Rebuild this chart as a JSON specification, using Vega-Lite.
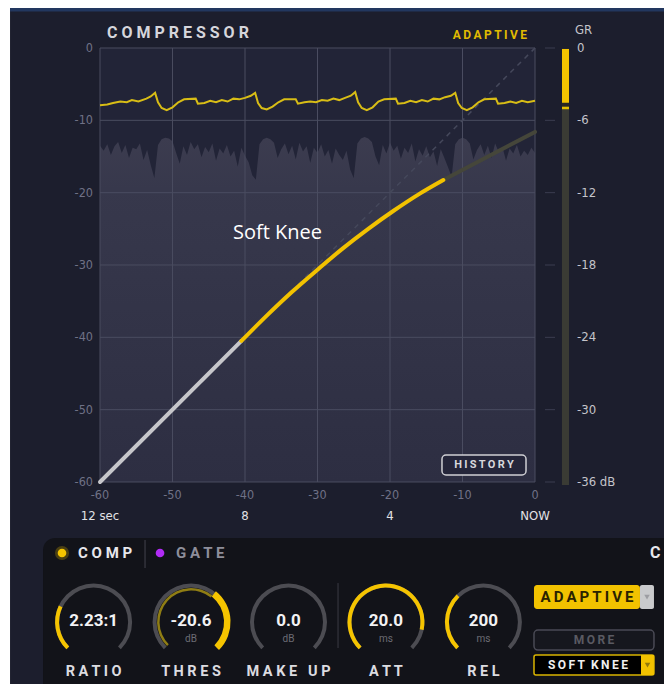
{
"$schema": "https://vega.github.io/schema/vega-lite/v6.json",
"width": 664, "height": 684, "autosize": {"type": "none"}, "padding": 0,
"background": "#ffffff",
"config": {"view": {"stroke": null}, "text": {"font": "Roboto"}},
"data": {"values": [{"k": 1}]},
"datasets": {
"grid": [{"v": -60}, {"v": -50}, {"v": -40}, {"v": -30}, {"v": -20}, {"v": -10}, {"v": 0}],
"wave": [
{"t":-60,"db":-13.5},{"t":-59.5,"db":-14.2},{"t":-59,"db":-13.3},{"t":-58.5,"db":-14.8},{"t":-58,"db":-13.6},{"t":-57.5,"db":-13.0},{"t":-57,"db":-14.5},{"t":-56.5,"db":-13.4},{"t":-56,"db":-15.2},{"t":-55.5,"db":-13.8},{"t":-55,"db":-14.0},{"t":-54.5,"db":-13.2},{"t":-54,"db":-15.5},{"t":-53.5,"db":-14.1},{"t":-53,"db":-16.2},{"t":-52.5,"db":-18.0},{"t":-52,"db":-13.4},{"t":-51.5,"db":-12.6},{"t":-51,"db":-12.4},{"t":-50.5,"db":-12.5},{"t":-50,"db":-12.9},{"t":-49.5,"db":-14.5},{"t":-49,"db":-16.0},{"t":-48.5,"db":-13.6},{"t":-48,"db":-14.8},{"t":-47.5,"db":-13.0},{"t":-47,"db":-14.0},{"t":-46.5,"db":-13.3},{"t":-46,"db":-15.1},{"t":-45.5,"db":-13.7},{"t":-45,"db":-14.4},{"t":-44.5,"db":-13.2},{"t":-44,"db":-15.6},{"t":-43.5,"db":-13.9},{"t":-43,"db":-14.6},{"t":-42.5,"db":-13.4},{"t":-42,"db":-15.0},{"t":-41.5,"db":-14.2},{"t":-41,"db":-16.4},{"t":-40.5,"db":-13.8},{"t":-40,"db":-14.9},{"t":-39.5,"db":-15.8},{"t":-39,"db":-17.6},{"t":-38.5,"db":-18.2},{"t":-38,"db":-13.3},{"t":-37.5,"db":-12.6},{"t":-37,"db":-12.4},{"t":-36.5,"db":-12.6},{"t":-36,"db":-13.1},{"t":-35.5,"db":-15.2},{"t":-35,"db":-14.0},{"t":-34.5,"db":-13.2},{"t":-34,"db":-14.7},{"t":-33.5,"db":-13.5},{"t":-33,"db":-15.4},{"t":-32.5,"db":-13.1},{"t":-32,"db":-14.3},{"t":-31.5,"db":-13.6},{"t":-31,"db":-15.9},{"t":-30.5,"db":-13.8},{"t":-30,"db":-14.5},{"t":-29.5,"db":-13.3},{"t":-29,"db":-15.0},{"t":-28.5,"db":-14.1},{"t":-28,"db":-16.0},{"t":-27.5,"db":-13.9},{"t":-27,"db":-14.8},{"t":-26.5,"db":-15.5},{"t":-26,"db":-14.2},{"t":-25.5,"db":-16.8},{"t":-25,"db":-18.0},{"t":-24.5,"db":-13.2},{"t":-24,"db":-12.5},{"t":-23.5,"db":-12.3},{"t":-23,"db":-12.5},{"t":-22.5,"db":-13.0},{"t":-22,"db":-15.0},{"t":-21.5,"db":-16.2},{"t":-21,"db":-13.4},{"t":-20.5,"db":-14.6},{"t":-20,"db":-13.1},{"t":-19.5,"db":-14.2},{"t":-19,"db":-13.5},{"t":-18.5,"db":-15.3},{"t":-18,"db":-13.8},{"t":-17.5,"db":-14.5},{"t":-17,"db":-13.2},{"t":-16.5,"db":-15.7},{"t":-16,"db":-14.0},{"t":-15.5,"db":-14.9},{"t":-15,"db":-13.6},{"t":-14.5,"db":-15.1},{"t":-14,"db":-14.3},{"t":-13.5,"db":-16.3},{"t":-13,"db":-14.0},{"t":-12.5,"db":-15.2},{"t":-12,"db":-16.5},{"t":-11.5,"db":-17.8},{"t":-11,"db":-13.3},{"t":-10.5,"db":-12.6},{"t":-10,"db":-12.4},{"t":-9.5,"db":-12.6},{"t":-9,"db":-13.2},{"t":-8.5,"db":-15.4},{"t":-8,"db":-14.1},{"t":-7.5,"db":-13.3},{"t":-7,"db":-14.8},{"t":-6.5,"db":-13.5},{"t":-6,"db":-15.2},{"t":-5.5,"db":-13.2},{"t":-5,"db":-14.4},{"t":-4.5,"db":-13.7},{"t":-4,"db":-15.6},{"t":-3.5,"db":-13.9},{"t":-3,"db":-14.6},{"t":-2.5,"db":-13.4},{"t":-2,"db":-15.0},{"t":-1.5,"db":-14.2},{"t":-1,"db":-14.8},{"t":-0.5,"db":-13.8},{"t":0,"db":-14.5}],
"grline": [
{"t":-60,"g":-7.9},{"t":-59,"g":-7.8},{"t":-58.2,"g":-7.6},{"t":-57.2,"g":-7.4},{"t":-56.3,"g":-7.5},{"t":-55.6,"g":-7.2},{"t":-54.7,"g":-7.4},{"t":-53.6,"g":-7.0},{"t":-53.0,"g":-6.7},{"t":-52.4,"g":-6.2},
{"t":-52.0,"g":-7.5},{"t":-51.5,"g":-8.3},{"t":-50.8,"g":-8.6},{"t":-50.0,"g":-8.2},{"t":-49.2,"g":-7.5},{"t":-48.4,"g":-7.1},{"t":-46.8,"g":-7.0},{"t":-46.5,"g":-7.7},{"t":-45.6,"g":-7.6},{"t":-44.8,"g":-7.3},{"t":-44.0,"g":-7.5},{"t":-43.2,"g":-7.2},{"t":-42.4,"g":-7.4},{"t":-41.6,"g":-7.0},{"t":-40.8,"g":-7.1},{"t":-40.0,"g":-6.9},{"t":-39.2,"g":-6.6},{"t":-38.6,"g":-6.2},
{"t":-38.2,"g":-7.6},{"t":-37.7,"g":-8.3},{"t":-37.0,"g":-8.5},{"t":-36.2,"g":-8.1},{"t":-35.4,"g":-7.5},{"t":-34.6,"g":-7.1},{"t":-33.0,"g":-7.1},{"t":-32.7,"g":-7.7},{"t":-31.8,"g":-7.5},{"t":-31.0,"g":-7.4},{"t":-30.2,"g":-7.5},{"t":-29.4,"g":-7.2},{"t":-28.6,"g":-7.3},{"t":-27.8,"g":-7.0},{"t":-27.0,"g":-7.2},{"t":-26.2,"g":-6.9},{"t":-25.4,"g":-6.6},{"t":-24.8,"g":-6.1},
{"t":-24.4,"g":-7.5},{"t":-23.9,"g":-8.3},{"t":-23.2,"g":-8.6},{"t":-22.4,"g":-8.2},{"t":-21.6,"g":-7.4},{"t":-20.8,"g":-7.1},{"t":-19.2,"g":-7.0},{"t":-18.9,"g":-7.7},{"t":-18.0,"g":-7.6},{"t":-17.2,"g":-7.3},{"t":-16.4,"g":-7.5},{"t":-15.6,"g":-7.2},{"t":-14.8,"g":-7.4},{"t":-14.0,"g":-7.0},{"t":-13.2,"g":-7.1},{"t":-12.4,"g":-6.8},{"t":-11.6,"g":-6.6},{"t":-11.0,"g":-6.2},
{"t":-10.6,"g":-7.6},{"t":-10.1,"g":-8.3},{"t":-9.4,"g":-8.6},{"t":-8.6,"g":-8.2},{"t":-7.8,"g":-7.5},{"t":-7.0,"g":-7.1},{"t":-5.4,"g":-7.0},{"t":-5.1,"g":-7.7},{"t":-4.2,"g":-7.6},{"t":-3.4,"g":-7.4},{"t":-2.6,"g":-7.6},{"t":-1.8,"g":-7.3},{"t":-1.0,"g":-7.5},{"t":0,"g":-7.3}],
"linear": [{"i": -60, "o": -60}, {"i": -40.5, "o": -40.5}],
"knee": [{"i": -40.5, "o": -40.5}, {"i": -37, "o": -37.0}, {"i": -33.5, "o": -33.7}, {"i": -30, "o": -30.65}, {"i": -26.5, "o": -27.7}, {"i": -23, "o": -25.0}, {"i": -19.5, "o": -22.5}, {"i": -16, "o": -20.2}, {"i": -12.65, "o": -18.25}],
"above": [{"i": -12.65, "o": -18.25}, {"i": 0, "o": -11.6}],
"unity": [{"i": -40.5, "o": -40.5}, {"i": 0, "o": 0}],
"timeLabels": [{"t": -60, "lab": "12 sec"}, {"t": -40, "lab": "8"}, {"t": -20, "lab": "4"}, {"t": 0, "lab": "NOW"}],
"grTicks": [{"g": 0, "lab": "0"}, {"g": -6, "lab": "-6"}, {"g": -12, "lab": "-12"}, {"g": -18, "lab": "-18"}, {"g": -24, "lab": "-24"}, {"g": -30, "lab": "-30"}, {"g": -36, "lab": "-36 dB"}],
"knobs": [{"knob": "RATIO", "val": "2.23:1", "unit": "", "lab": "R A T I O"}, {"knob": "THRES", "val": "-20.6", "unit": "dB", "lab": "T H R E S"}, {"knob": "MAKE UP", "val": "0.0", "unit": "dB", "lab": "M A K E\u00a0\u00a0\u00a0U P"}, {"knob": "ATT", "val": "20.0", "unit": "ms", "lab": "A T T"}, {"knob": "REL", "val": "200", "unit": "ms", "lab": "R E L"}],
"tracks": [{"knob": "RATIO", "a0": -2.356, "a1": 2.356}, {"knob": "THRES", "a0": -2.356, "a1": 2.356}, {"knob": "MAKE UP", "a0": -2.356, "a1": 2.356}, {"knob": "ATT", "a0": -2.356, "a1": 2.356}, {"knob": "REL", "a0": -2.356, "a1": 2.356}],
"fills": [{"knob": "RATIO", "a0": -2.356, "a1": -1.13}, {"knob": "ATT", "a0": -2.356, "a1": 1.78}, {"knob": "REL", "a0": -2.356, "a1": -0.77}],
"thresOuter": [{"knob": "THRES", "a0": 0.68, "a1": 2.356}],
"thresInner": [{"knob": "THRES", "a0": -2.356, "a1": 0.68}]
},
"layer": [
{"layer": [
 {"mark": {"type": "rect", "color": "#1c1e2d"}, "encoding": {"x": {"datum": -72.41, "type": "quantitative", "scale": {"domain": [-73.7931, 17.7931], "nice": false, "zero": false}, "axis": null}, "x2": {"datum": 20}, "y": {"datum": 5.53, "type": "quantitative", "scale": {"domain": [-87.9263, 6.6359], "nice": false, "zero": false}, "axis": null}, "y2": {"datum": -95}}},
 {"mark": {"type": "rect", "color": "#22375f"}, "encoding": {"x": {"datum": -72.41, "type": "quantitative", "axis": null}, "x2": {"datum": 20}, "y": {"datum": 5.53, "type": "quantitative", "axis": null}, "y2": {"datum": 5.05}}},
 {"mark": {"type": "rect", "color": "#222437"}, "encoding": {"x": {"datum": -60, "type": "quantitative", "axis": null}, "x2": {"datum": 0}, "y": {"datum": 0, "type": "quantitative", "axis": null}, "y2": {"datum": -60}}},
 {"data": {"name": "wave"}, "mark": {"type": "area", "interpolate": "linear", "color": {"gradient": "linear", "x1": 0, "y1": 0, "x2": 0, "y2": 1, "stops": [{"offset": 0, "color": "#3c3c4f"}, {"offset": 0.15, "color": "#37384c"}, {"offset": 1, "color": "#2d2e42"}]}}, "encoding": {"x": {"field": "t", "type": "quantitative", "axis": null}, "y": {"field": "db", "type": "quantitative", "axis": null}, "y2": {"datum": -60}}},
 {"data": {"name": "grid"}, "mark": {"type": "rule", "color": "#4a4c60", "strokeWidth": 1}, "encoding": {"x": {"field": "v", "type": "quantitative", "axis": null}, "y": {"datum": 0, "type": "quantitative", "axis": null}, "y2": {"datum": -60}}},
 {"data": {"name": "grid"}, "mark": {"type": "rule", "color": "#4a4c60", "strokeWidth": 1}, "encoding": {"y": {"field": "v", "type": "quantitative", "axis": null}, "x": {"datum": -60, "type": "quantitative", "axis": null}, "x2": {"datum": 0}}},
 {"data": {"name": "grid"}, "mark": {"type": "text", "align": "right", "baseline": "middle", "dx": -7, "fontSize": 12.5, "color": "#6f7186", "font": "Liberation Sans Narrow, DejaVu Sans Condensed, Roboto"}, "encoding": {"text": {"field": "v", "type": "nominal"}, "y": {"field": "v", "type": "quantitative", "axis": null}, "x": {"datum": -60, "type": "quantitative", "axis": null}}},
 {"data": {"name": "grid"}, "mark": {"type": "text", "align": "center", "baseline": "middle", "fontSize": 12.5, "color": "#6f7186", "font": "Liberation Sans Narrow, DejaVu Sans Condensed, Roboto"}, "encoding": {"text": {"field": "v", "type": "nominal"}, "x": {"field": "v", "type": "quantitative", "axis": null}, "y": {"datum": -61.8, "type": "quantitative", "axis": null}}},
 {"data": {"name": "unity"}, "mark": {"type": "line", "color": "#45485b", "strokeWidth": 1.5, "strokeDash": [5, 5]}, "encoding": {"x": {"field": "i", "type": "quantitative", "axis": null}, "y": {"field": "o", "type": "quantitative", "axis": null}}},
 {"data": {"name": "grline"}, "mark": {"type": "line", "color": "#d8bd16", "strokeWidth": 2}, "encoding": {"x": {"field": "t", "type": "quantitative", "axis": null}, "y": {"field": "g", "type": "quantitative", "axis": null}}},
 {"data": {"name": "linear"}, "mark": {"type": "line", "color": "#c6c6ca", "strokeWidth": 4, "strokeCap": "round"}, "encoding": {"x": {"field": "i", "type": "quantitative", "axis": null}, "y": {"field": "o", "type": "quantitative", "axis": null}}},
 {"data": {"name": "above"}, "mark": {"type": "line", "color": "#45463a", "strokeWidth": 4, "strokeCap": "round"}, "encoding": {"x": {"field": "i", "type": "quantitative", "axis": null}, "y": {"field": "o", "type": "quantitative", "axis": null}}},
 {"data": {"name": "knee"}, "mark": {"type": "line", "color": "#f2c200", "strokeWidth": 4, "strokeCap": "round", "interpolate": "monotone"}, "encoding": {"x": {"field": "i", "type": "quantitative", "axis": null}, "y": {"field": "o", "type": "quantitative", "axis": null}}},
 {"mark": {"type": "text", "align": "left", "baseline": "middle", "fontSize": 16, "fontWeight": "bold", "color": "#d6d6dc"}, "encoding": {"text": {"value": "C O M P R E S S O R"}, "x": {"datum": -59.03, "type": "quantitative", "axis": null}, "y": {"datum": 2.07, "type": "quantitative", "axis": null}}},
 {"mark": {"type": "text", "align": "right", "baseline": "middle", "fontSize": 12, "fontWeight": "bold", "color": "#e0bb00"}, "encoding": {"text": {"value": "A\u2009D\u2009A\u2009P\u2009T\u2009I\u2009V\u2009E"}, "x": {"datum": -1.1, "type": "quantitative", "axis": null}, "y": {"datum": 1.8, "type": "quantitative", "axis": null}}},
 {"data": {"name": "timeLabels"}, "mark": {"type": "text", "align": "center", "baseline": "middle", "fontSize": 13, "color": "#e2e2e6", "font": "Liberation Sans Narrow, DejaVu Sans Condensed, Roboto"}, "encoding": {"text": {"field": "lab"}, "x": {"field": "t", "type": "quantitative", "axis": null}, "y": {"datum": -64.7, "type": "quantitative", "axis": null}}},
 {"mark": {"type": "text", "align": "left", "baseline": "middle", "fontSize": 20, "color": "#ffffff", "font": "Open Sans"}, "encoding": {"text": {"value": "Soft Knee"}, "x": {"datum": -41.66, "type": "quantitative", "axis": null}, "y": {"datum": -25.58, "type": "quantitative", "axis": null}}},
 {"mark": {"type": "rect", "color": "#25263a", "stroke": "#cfcfd4", "strokeWidth": 1.5, "cornerRadius": 4}, "encoding": {"x": {"datum": -12.83, "type": "quantitative", "axis": null}, "x2": {"datum": -1.24}, "y": {"datum": -56.27, "type": "quantitative", "axis": null}, "y2": {"datum": -59.03}}},
 {"mark": {"type": "text", "align": "center", "baseline": "middle", "fontSize": 11, "fontWeight": "bold", "color": "#d8d8dc"}, "encoding": {"text": {"value": "H\u2009I\u2009S\u2009T\u2009O\u2009R\u2009Y"}, "x": {"datum": -7.03, "type": "quantitative", "axis": null}, "y": {"datum": -57.65, "type": "quantitative", "axis": null}}},
 {"mark": {"type": "rect", "color": "#121319", "cornerRadius": 12}, "encoding": {"x": {"datum": -67.86, "type": "quantitative", "axis": null}, "x2": {"datum": 22}, "y": {"datum": -67.74, "type": "quantitative", "axis": null}, "y2": {"datum": -95}}},
 {"mark": {"type": "point", "filled": true, "size": 200, "color": "#f2c200", "opacity": 0.25}, "encoding": {"x": {"datum": -65.24, "type": "quantitative", "axis": null}, "y": {"datum": -69.82, "type": "quantitative", "axis": null}}},
 {"mark": {"type": "point", "filled": true, "size": 75, "color": "#f5c400", "opacity": 1}, "encoding": {"x": {"datum": -65.24, "type": "quantitative", "axis": null}, "y": {"datum": -69.82, "type": "quantitative", "axis": null}}},
 {"mark": {"type": "point", "filled": true, "size": 75, "color": "#b12cf5", "opacity": 1}, "encoding": {"x": {"datum": -51.72, "type": "quantitative", "axis": null}, "y": {"datum": -69.82, "type": "quantitative", "axis": null}}},
 {"mark": {"type": "text", "align": "left", "baseline": "middle", "fontSize": 15, "fontWeight": "bold", "color": "#e8e8ec"}, "encoding": {"text": {"value": "C O M P"}, "x": {"datum": -63.03, "type": "quantitative", "axis": null}, "y": {"datum": -69.82, "type": "quantitative", "axis": null}}},
 {"mark": {"type": "text", "align": "left", "baseline": "middle", "fontSize": 15, "fontWeight": "bold", "color": "#8e8e9a"}, "encoding": {"text": {"value": "G A T E"}, "x": {"datum": -49.52, "type": "quantitative", "axis": null}, "y": {"datum": -69.82, "type": "quantitative", "axis": null}}},
 {"mark": {"type": "text", "align": "left", "baseline": "middle", "fontSize": 16, "fontWeight": "bold", "color": "#e8e8ec"}, "encoding": {"text": {"value": "C"}, "x": {"datum": 15.86, "type": "quantitative", "axis": null}, "y": {"datum": -69.82, "type": "quantitative", "axis": null}}},
 {"mark": {"type": "rule", "color": "#44444e", "strokeWidth": 1}, "encoding": {"x": {"datum": -53.79, "type": "quantitative", "axis": null}, "y": {"datum": -68.02, "type": "quantitative", "axis": null}, "y2": {"datum": -71.89}}},
 {"mark": {"type": "rule", "color": "#3a3a44", "strokeWidth": 1}, "encoding": {"x": {"datum": -27.17, "type": "quantitative", "axis": null}, "y": {"datum": -73.97, "type": "quantitative", "axis": null}, "y2": {"datum": -82.95}}},
 {"mark": {"type": "rect", "color": "#f2c200", "cornerRadius": 3}, "encoding": {"x": {"datum": -0.14, "type": "quantitative", "axis": null}, "x2": {"datum": 14.48}, "y": {"datum": -74.24, "type": "quantitative", "axis": null}, "y2": {"datum": -77.56}}},
 {"mark": {"type": "rect", "color": "#c9cacc", "cornerRadius": 2}, "encoding": {"x": {"datum": 14.48, "type": "quantitative", "axis": null}, "x2": {"datum": 16.41}, "y": {"datum": -74.24, "type": "quantitative", "axis": null}, "y2": {"datum": -77.56}}},
 {"mark": {"type": "point", "shape": "triangle-down", "filled": true, "size": 30, "color": "#8a8a90"}, "encoding": {"x": {"datum": 15.45, "type": "quantitative", "axis": null}, "y": {"datum": -75.9, "type": "quantitative", "axis": null}}},
 {"mark": {"type": "text", "align": "center", "baseline": "middle", "fontSize": 15, "fontWeight": "bold", "color": "#2a2200"}, "encoding": {"text": {"value": "A\u2009D\u2009A\u2009P\u2009T\u2009I\u2009V\u2009E"}, "x": {"datum": 7.17, "type": "quantitative", "axis": null}, "y": {"datum": -75.9, "type": "quantitative", "axis": null}}},
 {"mark": {"type": "rect", "color": "#16171e", "stroke": "#4a4a55", "strokeWidth": 1.5, "cornerRadius": 4}, "encoding": {"x": {"datum": -0.14, "type": "quantitative", "axis": null}, "x2": {"datum": 16.41}, "y": {"datum": -80.46, "type": "quantitative", "axis": null}, "y2": {"datum": -83.23}}},
 {"mark": {"type": "text", "align": "center", "baseline": "middle", "fontSize": 12, "fontWeight": "bold", "color": "#5a5a62"}, "encoding": {"text": {"value": "M\u2009O\u2009R\u2009E"}, "x": {"datum": 8.14, "type": "quantitative", "axis": null}, "y": {"datum": -81.84, "type": "quantitative", "axis": null}}},
 {"mark": {"type": "rect", "color": "#000000", "stroke": "#d9b400", "strokeWidth": 1.5, "cornerRadius": 2}, "encoding": {"x": {"datum": -0.14, "type": "quantitative", "axis": null}, "x2": {"datum": 16.41}, "y": {"datum": -83.92, "type": "quantitative", "axis": null}, "y2": {"datum": -86.68}}},
 {"mark": {"type": "rect", "color": "#f2c200"}, "encoding": {"x": {"datum": 14.62, "type": "quantitative", "axis": null}, "x2": {"datum": 16.41}, "y": {"datum": -83.92, "type": "quantitative", "axis": null}, "y2": {"datum": -86.68}}},
 {"mark": {"type": "point", "shape": "triangle-down", "filled": true, "size": 30, "color": "#6a5a10"}, "encoding": {"x": {"datum": 15.52, "type": "quantitative", "axis": null}, "y": {"datum": -85.3, "type": "quantitative", "axis": null}}},
 {"mark": {"type": "text", "align": "center", "baseline": "middle", "fontSize": 12, "fontWeight": "bold", "color": "#f0f0f0"}, "encoding": {"text": {"value": "S\u2009O\u2009F\u2009T\u00a0\u00a0K\u2009N\u2009E\u2009E"}, "x": {"datum": 7.31, "type": "quantitative", "axis": null}, "y": {"datum": -85.3, "type": "quantitative", "axis": null}}}
]},
{"layer": [
 {"mark": {"type": "rect", "color": "#3a3b34"}, "encoding": {"x": {"datum": 3.72, "type": "quantitative", "scale": {"domain": [-73.7931, 17.7931], "nice": false, "zero": false}, "axis": null}, "x2": {"datum": 4.69}, "y": {"datum": -0.08, "type": "quantitative", "scale": {"domain": [-52.7557, 3.9816], "nice": false, "zero": false}, "axis": null}, "y2": {"datum": -36.25}}},
 {"mark": {"type": "rect", "color": "#2a2722"}, "encoding": {"x": {"datum": 3.72, "type": "quantitative", "axis": null}, "x2": {"datum": 4.69}, "y": {"datum": -4.54, "type": "quantitative", "axis": null}, "y2": {"datum": -4.87}}},
 {"mark": {"type": "rect", "color": "#f5c400"}, "encoding": {"x": {"datum": 3.72, "type": "quantitative", "axis": null}, "x2": {"datum": 4.69}, "y": {"datum": -0.08, "type": "quantitative", "axis": null}, "y2": {"datum": -4.54}}},
 {"mark": {"type": "rect", "color": "#e6c000"}, "encoding": {"x": {"datum": 3.72, "type": "quantitative", "axis": null}, "x2": {"datum": 4.69}, "y": {"datum": -4.87, "type": "quantitative", "axis": null}, "y2": {"datum": -5.08}}},
 {"data": {"name": "grTicks"}, "mark": {"type": "rule", "color": "#3b3d50", "strokeWidth": 1}, "encoding": {"y": {"field": "g", "type": "quantitative", "axis": null}, "x": {"datum": 1.38, "type": "quantitative", "axis": null}, "x2": {"datum": 2.76}}},
 {"data": {"name": "grTicks"}, "mark": {"type": "text", "align": "left", "baseline": "middle", "dx": 2, "fontSize": 13, "color": "#c4c4ca", "font": "Liberation Sans Narrow, DejaVu Sans Condensed, Roboto"}, "encoding": {"text": {"field": "lab"}, "y": {"field": "g", "type": "quantitative", "axis": null}, "x": {"datum": 5.52, "type": "quantitative", "axis": null}}},
 {"mark": {"type": "text", "align": "left", "baseline": "middle", "fontSize": 13, "color": "#c4c4ca", "font": "Liberation Sans Narrow, DejaVu Sans Condensed, Roboto"}, "encoding": {"text": {"value": "GR"}, "x": {"datum": 5.52, "type": "quantitative", "axis": null}, "y": {"datum": 1.49, "type": "quantitative", "axis": null}}}
]},
{"layer": [
 {"data": {"name": "tracks"}, "mark": {"type": "arc", "radius": 38.5, "radius2": 34.5, "color": "#4c4c52"}, "encoding": {"x": {"field": "knob", "type": "nominal", "scale": {"type": "point", "domain": ["RATIO", "THRES", "MAKE UP", "ATT", "REL", "MODE"], "padding": 0.9069, "align": 0.5296}, "axis": null}, "y": {"datum": -79.36, "type": "quantitative", "scale": {"domain": [-87.9263, 6.6359], "nice": false, "zero": false}, "axis": null}, "theta": {"field": "a0", "type": "quantitative", "scale": null, "stack": null}, "theta2": {"field": "a1"}}},
 {"data": {"name": "thresInner"}, "mark": {"type": "arc", "radius": 34, "radius2": 31.5, "color": "#8f7d14"}, "encoding": {"x": {"field": "knob", "type": "nominal", "axis": null}, "y": {"datum": -79.36, "type": "quantitative", "axis": null}, "theta": {"field": "a0", "type": "quantitative", "scale": null, "stack": null}, "theta2": {"field": "a1"}}},
 {"data": {"name": "thresOuter"}, "mark": {"type": "arc", "radius": 39.5, "radius2": 33, "color": "#f5c400"}, "encoding": {"x": {"field": "knob", "type": "nominal", "axis": null}, "y": {"datum": -79.36, "type": "quantitative", "axis": null}, "theta": {"field": "a0", "type": "quantitative", "scale": null, "stack": null}, "theta2": {"field": "a1"}}},
 {"data": {"name": "fills"}, "mark": {"type": "arc", "radius": 38.5, "radius2": 34.5, "color": "#f5c400"}, "encoding": {"x": {"field": "knob", "type": "nominal", "axis": null}, "y": {"datum": -79.36, "type": "quantitative", "axis": null}, "theta": {"field": "a0", "type": "quantitative", "scale": null, "stack": null}, "theta2": {"field": "a1"}}},
 {"data": {"name": "knobs"}, "mark": {"type": "text", "align": "center", "baseline": "middle", "fontSize": 17, "fontWeight": "bold", "color": "#f2f2f4"}, "encoding": {"text": {"field": "val"}, "x": {"field": "knob", "type": "nominal", "axis": null}, "y": {"datum": -79.2, "type": "quantitative", "axis": null}}},
 {"data": {"name": "knobs"}, "mark": {"type": "text", "align": "center", "baseline": "middle", "fontSize": 10, "color": "#6c6c74"}, "encoding": {"text": {"field": "unit"}, "x": {"field": "knob", "type": "nominal", "axis": null}, "y": {"datum": -81.71, "type": "quantitative", "axis": null}}},
 {"data": {"name": "knobs"}, "mark": {"type": "text", "align": "center", "baseline": "middle", "fontSize": 14.5, "fontWeight": "bold", "color": "#dcdce0"}, "encoding": {"text": {"field": "lab"}, "x": {"field": "knob", "type": "nominal", "axis": null}, "y": {"datum": -86.27, "type": "quantitative", "axis": null}}}
]}
],
"resolve": {"scale": {"x": "independent", "y": "independent"}}
}
